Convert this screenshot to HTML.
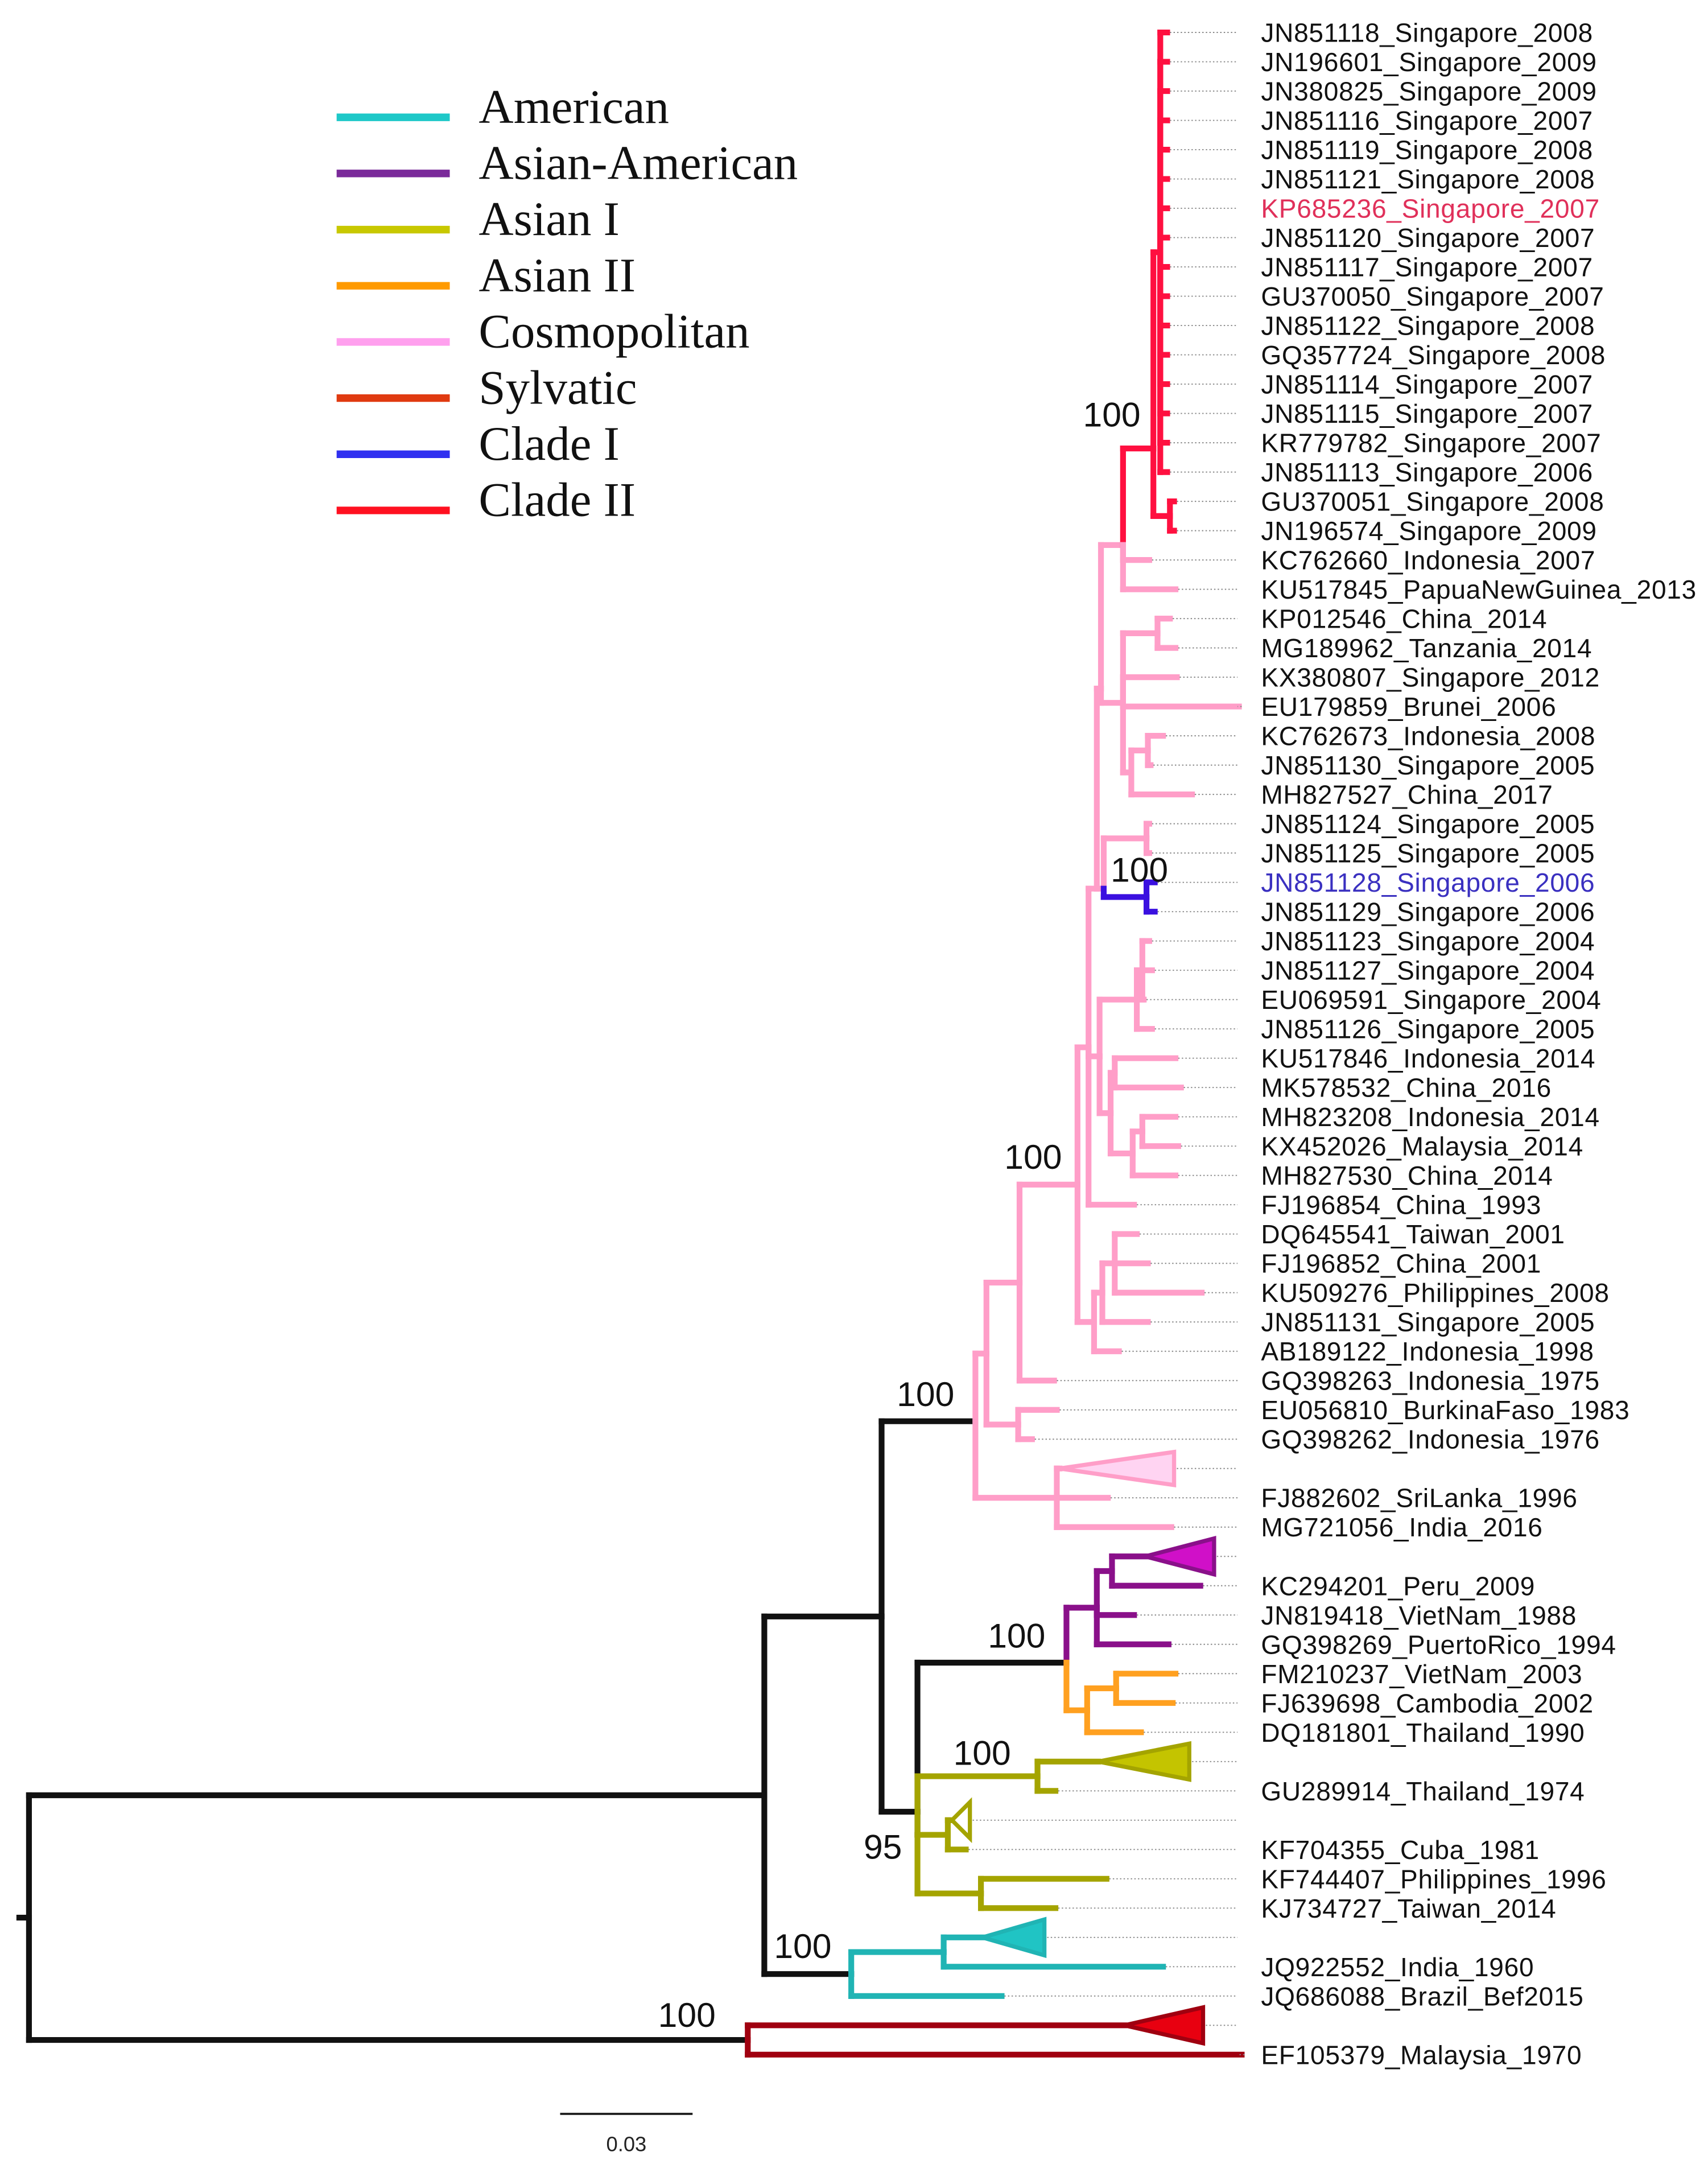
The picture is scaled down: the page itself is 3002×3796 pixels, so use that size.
<!DOCTYPE html>
<html>
<head>
<meta charset="utf-8">
<style>
html,body{margin:0;padding:0;background:#fff;}
svg{display:block;}
.tip{font-family:"Liberation Sans",sans-serif;font-size:19px;letter-spacing:0.3px;fill:#111;}
.leg{font-family:"Liberation Serif",serif;font-size:35px;fill:#111;}
.boot{font-family:"Liberation Sans",sans-serif;font-size:25px;fill:#111;}
</style>
</head>
<body>
<svg id="chart" width="3002" height="3796" viewBox="0 0 1238 1565.4" xmlns="http://www.w3.org/2000/svg">
  <rect x="0" y="0" width="1238" height="1565.4" fill="#fff"/>
  <g id="legend"></g>
  <g id="tree"></g>
  <g id="tips"></g>
  <g id="boots"></g>
  <g>
    <line x1="406" y1="1532" x2="502" y2="1532" stroke="#222" stroke-width="1.6"/>
    <text x="454" y="1559" text-anchor="middle" font-family="Liberation Sans, sans-serif" font-size="15" fill="#222">0.03</text>
  </g>
</svg>
<script>
const NS = "http://www.w3.org/2000/svg";
const tipLabels = ["JN851118_Singapore_2008","JN196601_Singapore_2009","JN380825_Singapore_2009","JN851116_Singapore_2007","JN851119_Singapore_2008","JN851121_Singapore_2008","KP685236_Singapore_2007","JN851120_Singapore_2007","JN851117_Singapore_2007","GU370050_Singapore_2007","JN851122_Singapore_2008","GQ357724_Singapore_2008","JN851114_Singapore_2007","JN851115_Singapore_2007","KR779782_Singapore_2007","JN851113_Singapore_2006","GU370051_Singapore_2008","JN196574_Singapore_2009","KC762660_Indonesia_2007","KU517845_PapuaNewGuinea_2013","KP012546_China_2014","MG189962_Tanzania_2014","KX380807_Singapore_2012","EU179859_Brunei_2006","KC762673_Indonesia_2008","JN851130_Singapore_2005","MH827527_China_2017","JN851124_Singapore_2005","JN851125_Singapore_2005","JN851128_Singapore_2006","JN851129_Singapore_2006","JN851123_Singapore_2004","JN851127_Singapore_2004","EU069591_Singapore_2004","JN851126_Singapore_2005","KU517846_Indonesia_2014","MK578532_China_2016","MH823208_Indonesia_2014","KX452026_Malaysia_2014","MH827530_China_2014","FJ196854_China_1993","DQ645541_Taiwan_2001","FJ196852_China_2001","KU509276_Philippines_2008","JN851131_Singapore_2005","AB189122_Indonesia_1998","GQ398263_Indonesia_1975","EU056810_BurkinaFaso_1983","GQ398262_Indonesia_1976","","FJ882602_SriLanka_1996","MG721056_India_2016","","KC294201_Peru_2009","JN819418_VietNam_1988","GQ398269_PuertoRico_1994","FM210237_VietNam_2003","FJ639698_Cambodia_2002","DQ181801_Thailand_1990","","GU289914_Thailand_1974","","KF704355_Cuba_1981","KF744407_Philippines_1996","KJ734727_Taiwan_2014","","JQ922552_India_1960","JQ686088_Brazil_Bef2015","","EF105379_Malaysia_1970"];
const tipColors = {6:"#e0305a", 29:"#3a30c0"};
const legendNames = ["American","Asian-American","Asian I","Asian II","Cosmopolitan","Sylvatic","Clade I","Clade II"];
const legendColors = ["#1ec8c8","#7a2a9a","#c8c800","#ff9a00","#ffa0ee","#e03a10","#3030f0","#ff1020"];
const bootValues = ["100","100","100","100","100","100","95","100","100"];
const bootPos = [[785,309],[805,639],[728,847],[650,1019],[716,1194],[691,1279],[626,1347],[561,1419],[477,1469]];

const rowY = i => 23.5 + i*21.24;
const C = {k:"#111",pk:"#ff9ec8",rd:"#ff1040",bl:"#3a10e0",pu:"#8a108a",or:"#ffa020",ol:"#a4a400",cy:"#20b4b4",sy:"#a00010"};
const T = (r,x)=>({r:r,x:x});
const TRI = (r,apex,base,half,fill)=>({r:r,tri:[apex,base,half,fill]});

const red = {x:836,y:325,col:C.rd,c:[{x:841,c:[0,1,2,3,4,5,6,7,8,9,10,11,12,13,14,15].map(i=>T(i,846))},{x:848,c:[T(16,851),T(17,851)]}]};
const blue = {x:831,col:C.bl,c:[T(29,837),T(30,837)]};
const cosmo = {x:707,y:1030,col:C.pk,c:[
  {x:715,c:[
    {x:739,c:[
      {x:781,c:[
        {x:789,y:759,c:[
          {x:795,y:644,c:[
            {x:798,y:499,c:[
              {x:814,y:395,split:true,c:[red,T(18,833),T(19,852)]},
              {x:814,c:[{x:839,c:[T(20,848),T(21,852)]},T(22,853),T(23,898),{x:820,c:[{x:832,c:[T(24,843),T(25,834)]},T(26,864)]}]}
            ]},
            {x:800,y:644,split:true,c:[{x:831,c:[T(27,833),T(28,833)]},blue]}
          ]},
          {x:797,c:[
            {x:824,c:[{x:828,c:[T(31,833),T(32,835),T(33,829)]},T(34,835)]},
            {x:805,c:[{x:808,c:[T(35,852),T(36,856)]},{x:821,c:[{x:828,c:[T(37,852),T(38,854)]},T(39,852)]}]}
          ]},
          T(40,822)
        ]},
        {x:793,c:[{x:799,c:[{x:808,c:[T(41,824),T(42,832),T(43,871)]},T(44,832)]},T(45,811)]}
      ]},
      T(46,764)
    ]},
    {x:738,c:[T(47,766),T(48,748)]}
  ]},
  {x:766,c:[TRI(49,768,851,12,"#ffd4f2"),T(50,803),T(51,849)]}
]};
const aa = {x:795,col:C.pu,c:[{x:806,c:[TRI(52,830,880,13,"#d010c8"),T(53,870)]},T(54,822),T(55,847)]};
const a2 = {x:788,col:C.or,c:[{x:809,c:[T(56,852),T(57,850)]},T(58,827)]};
const asian1 = {x:665,col:C.ol,c:[{x:752,c:[TRI(59,796,862,13,"#c4c400"),T(60,765)]},{x:687,c:[TRI(61,690,703,13,"#ffffff"),T(62,700)]},{x:711,c:[T(63,802),T(64,765)]}]};
const amer = {x:617,col:C.cy,c:[{x:684,c:[TRI(65,712,757,13,"#20c4c4"),T(66,843)]},T(67,726)]};
const syl = {x:542,col:C.sy,c:[TRI(68,815,872,13,"#e80010"),T(69,900)]};
const root = {x:21,col:C.k,c:[{x:554,c:[{x:639,c:[cosmo,{x:665,y:1313,c:[{x:773,y:1205,split:true,c:[aa,a2]},asian1]}]},amer]},syl]};

function layout(n,col){
  n.cc = n.col || col;
  if(n.c){ n.c.forEach(ch=>layout(ch,n.cc)); const ys=n.c.map(ch=>ch.y); if(n.y===undefined) n.y=(Math.min(...ys)+Math.max(...ys))/2; }
  else n.y=rowY(n.r);
}
layout(root,C.k);

const treeG=document.getElementById('tree');
function seg(x1,y1,x2,y2,col,w){
  const l=document.createElementNS(NS,'line');
  l.setAttribute('x1',x1);l.setAttribute('y1',y1);l.setAttribute('x2',x2);l.setAttribute('y2',y2);
  l.setAttribute('stroke',col);l.setAttribute('stroke-width',w||4.2);l.setAttribute('stroke-linecap','square');
  
  
  treeG.appendChild(l);
}
function leader(x1,y){
  const l=document.createElementNS(NS,'line');
  l.setAttribute('x1',x1+2);l.setAttribute('y1',y);l.setAttribute('x2',897);l.setAttribute('y2',y);
  l.setAttribute('stroke','#888');l.setAttribute('stroke-width',0.8);l.setAttribute('stroke-dasharray','1 1.6');
  
  
  treeG.appendChild(l);
}
// incoming edge colour = parent's colour unless the parent is a split node
function draw(n,px,ecol){
  if(n.tri){
    const [ax,bx,h,fill]=n.tri;
    seg(px,n.y,ax,n.y,ecol);
    const p=document.createElementNS(NS,'polygon');
    p.setAttribute('points',`${ax},${n.y} ${bx},${n.y-h} ${bx},${n.y+h}`);
    p.setAttribute('fill',fill);p.setAttribute('stroke',n.cc);p.setAttribute('stroke-width',3);
    
    
    treeG.appendChild(p);
    leader(bx,n.y);
    return;
  }
  seg(px,n.y,n.x,n.y,ecol);
  if(!n.c){ leader(n.x,n.y); return; }
  n.c.forEach(ch=>seg(n.x,n.y,n.x,ch.y,n.split?ch.cc:n.cc));
  n.c.forEach(ch=>draw(ch,n.x,n.split?ch.cc:n.cc));
}
draw(root,14,C.k);

const tipsG=document.getElementById('tips');
tipLabels.forEach((s,i)=>{
  if(!s) return;
  const t=document.createElementNS(NS,'text');
  t.setAttribute('x',914);t.setAttribute('y',rowY(i)+6.8);
  t.setAttribute('class','tip');
  if(tipColors[i]) t.setAttribute('style','fill:'+tipColors[i]);
  
  
  t.textContent=s; tipsG.appendChild(t);
});

const legG=document.getElementById('legend');
legendNames.forEach((s,i)=>{
  const y=85+i*40.7;
  const l=document.createElementNS(NS,'line');
  l.setAttribute('x1',244);l.setAttribute('x2',326);l.setAttribute('y1',y);l.setAttribute('y2',y);
  l.setAttribute('stroke',legendColors[i]);l.setAttribute('stroke-width',5.5);
  
  
  legG.appendChild(l);
  const t=document.createElementNS(NS,'text');
  t.setAttribute('x',347);t.setAttribute('y',y+4);t.setAttribute('class','leg');
  
  
  t.textContent=s; legG.appendChild(t);
});

const bootG=document.getElementById('boots');
bootValues.forEach((v,i)=>{
  const t=document.createElementNS(NS,'text');
  t.setAttribute('x',bootPos[i][0]);t.setAttribute('y',bootPos[i][1]);t.setAttribute('class','boot');
  
  
  t.textContent=v; bootG.appendChild(t);
});
</script>
</body>
</html>
